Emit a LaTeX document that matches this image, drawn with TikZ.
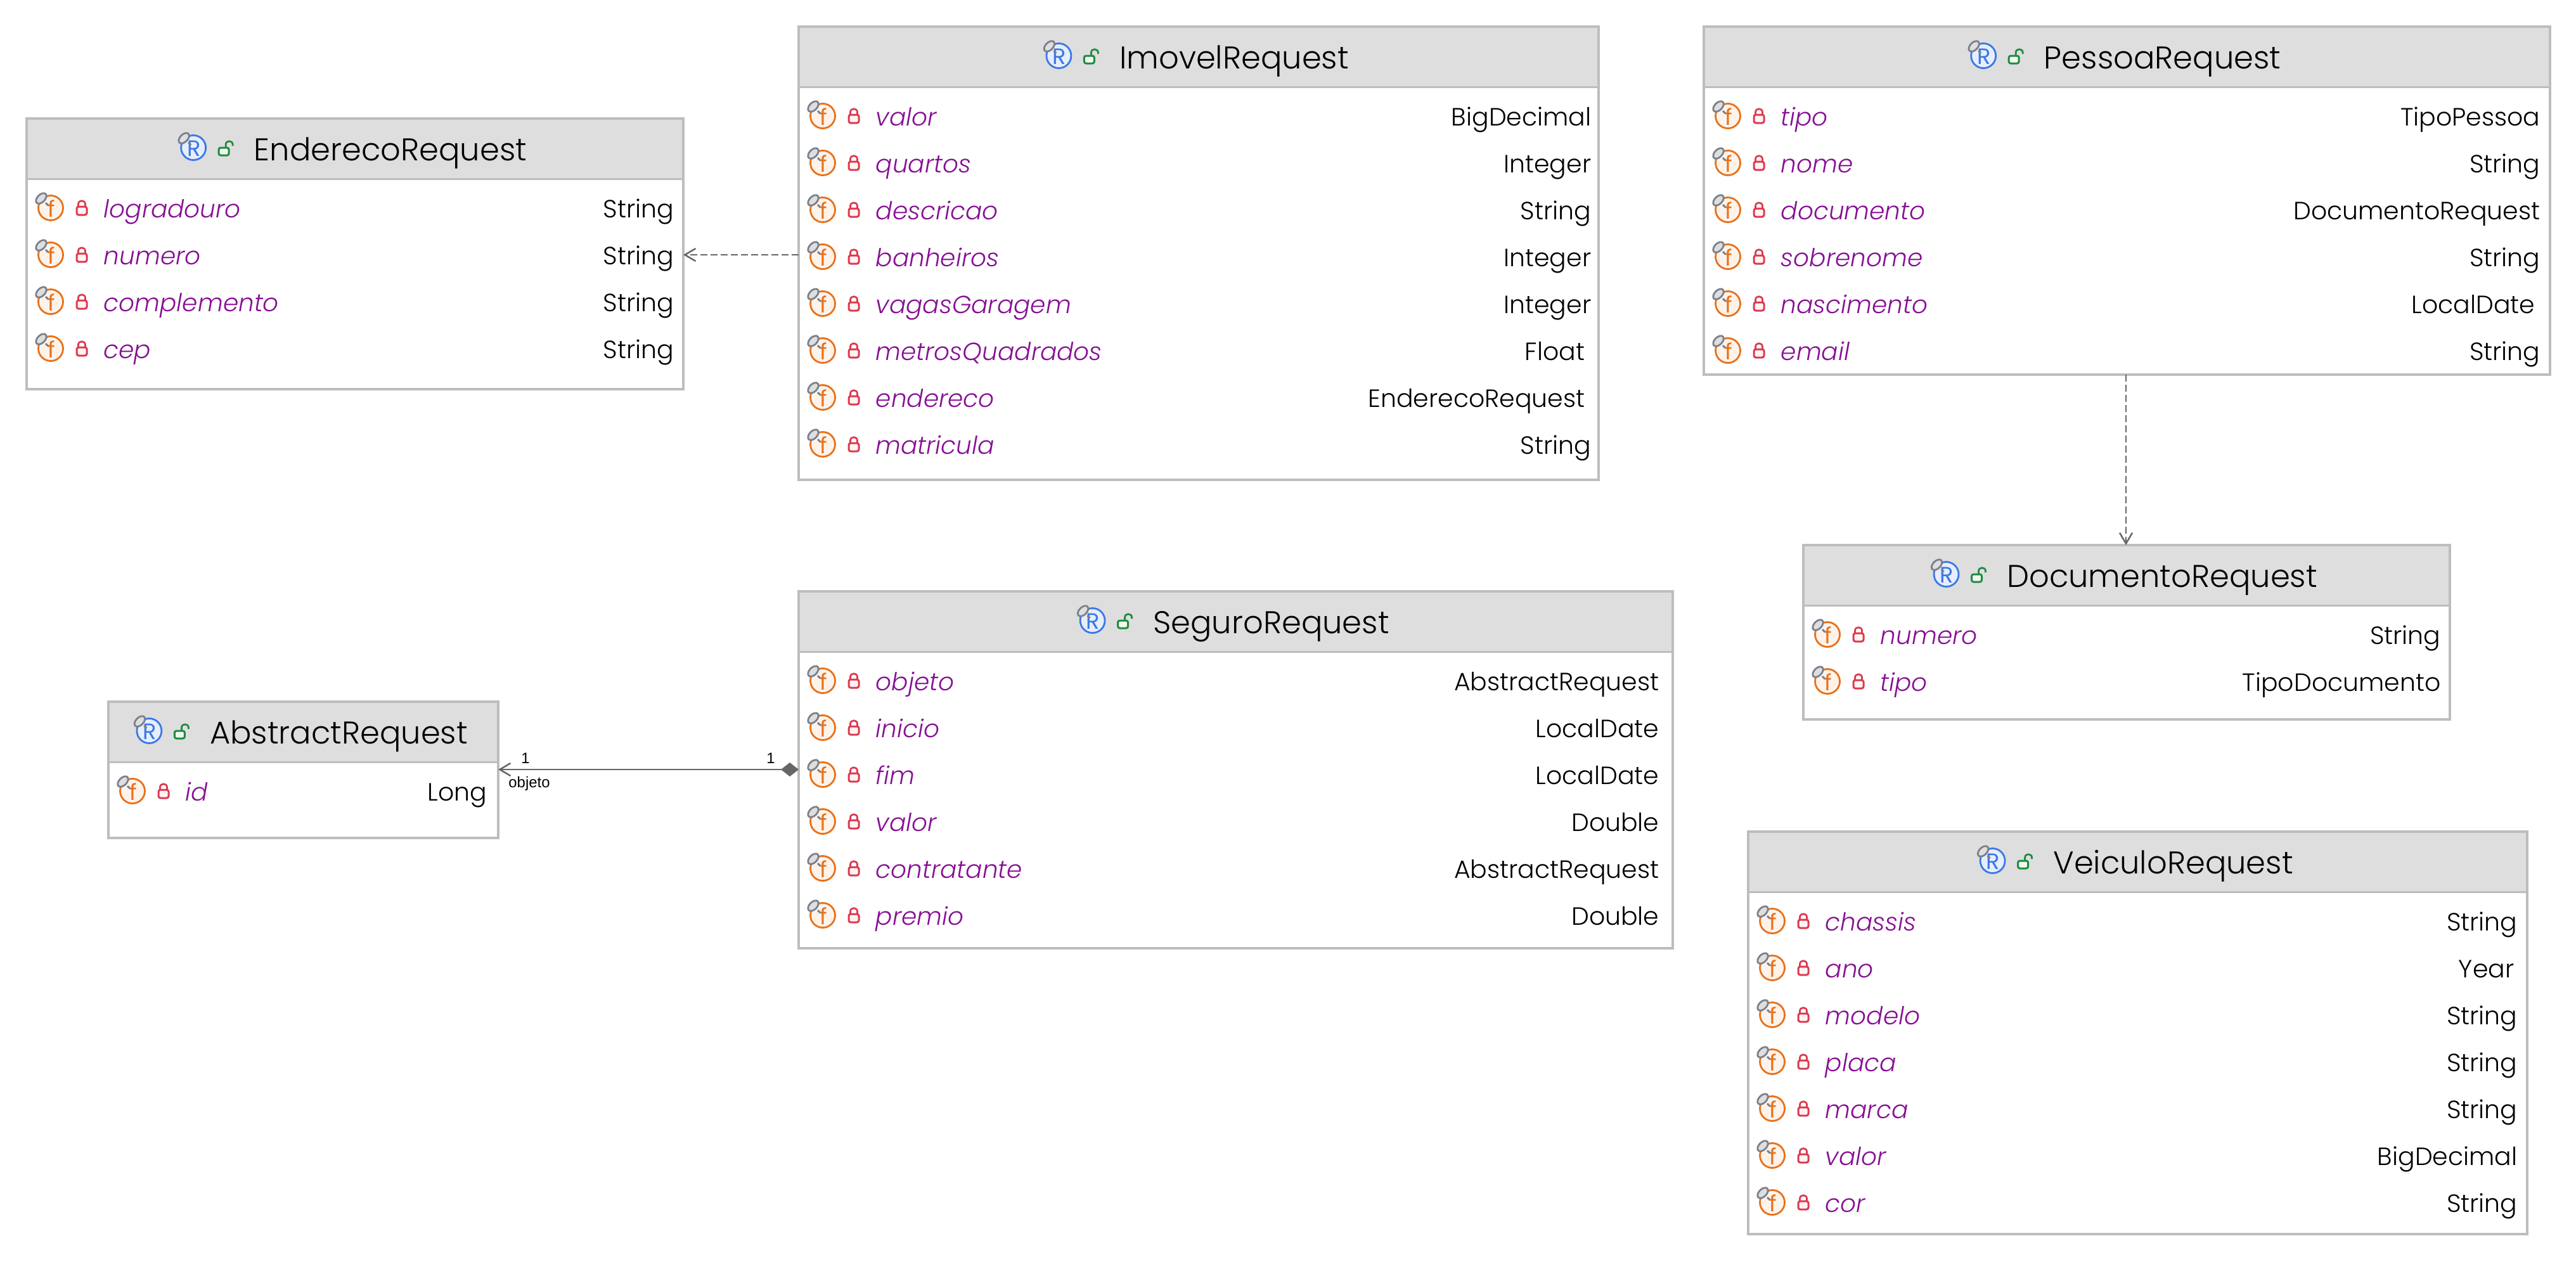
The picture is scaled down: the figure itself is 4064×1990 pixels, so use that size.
\documentclass[tikz,border=0pt]{standalone}
\usepackage{fontspec}
\setmainfont{Poppins}[UprightFont=* Light, ItalicFont=* Light Italic]
\newfontfamily\labelfont{Liberation Sans}
\newfontfamily\glyphfont{Poppins}
\usetikzlibrary{arrows.meta}

\definecolor{framegray}{HTML}{BDBDBD}
\definecolor{headgray}{HTML}{DEDEDE}
\definecolor{linegray}{HTML}{666666}
\definecolor{fieldorange}{HTML}{E8711A}
\definecolor{fieldpale}{HTML}{FEF3EB}
\definecolor{classblue}{HTML}{3B78E7}
\definecolor{classpale}{HTML}{E6EEFB}
\definecolor{lockred}{HTML}{DC3A50}
\definecolor{lockpale}{HTML}{FFF3F4}
\definecolor{lockgreen}{HTML}{1E8C3F}
\definecolor{greenpale}{HTML}{EFF8F0}
\definecolor{namepurple}{HTML}{871094}
\definecolor{pingray}{HTML}{7A808C}

\tikzset{
    titletext/.style={anchor=base, font=\fontsize{14.1}{14.1}\selectfont, inner sep=0pt},
    nametext/.style={anchor=base west, text=namepurple, font=\fontsize{11.1}{11.1}\selectfont\itshape, inner sep=0pt},
    typetext/.style={anchor=base east, font=\fontsize{11.2}{11.2}\selectfont, inner sep=0pt},
    umllabel/.style={font=\labelfont\fontsize{6.8}{6.8}\selectfont, inner sep=0pt},
    dependency/.style={draw=linegray, line width=0.025cm, dash pattern=on 0.11cm off 0.05cm,
        -{Straight Barb[length=0.17cm, width=0.2cm]}},
    association/.style={draw=linegray, line width=0.025cm,
        {Straight Barb[length=0.17cm, width=0.2cm]}-{Diamond[length=0.28cm, width=0.22cm]}},
    pics/badge/.style n args={3}{code={
        \draw[draw=#1, fill=#2, line width=0.028cm] (0,0) circle (19.5);
        \node[text=#1, inner sep=0pt, font=\glyphfont\fontsize{10}{10}\selectfont] (glyph) at (1,1) {#3};
        \draw[draw=pingray, fill=headgray, line width=0.028cm]
            (-15,-15) ellipse [x radius=10, y radius=6, rotate=45];
        \draw[draw=pingray, line width=0.03cm] (-8,-8) -- (-4,-4);
    }},
    pics/closedlock/.style={code={
        \draw[draw=lockred, line width=0.028cm] (-5.5,-3) -- (-5.5,-6) .. controls (-5.5,-13) and (5.5,-13) .. (5.5,-6) -- (5.5,-3);
        \draw[draw=lockred, fill=lockpale, line width=0.03cm, rounded corners=0.03cm] (-8,-2) rectangle (8,11);
    }},
    pics/openlock/.style={code={
        \draw[draw=lockgreen, line width=0.028cm] (3,-1) -- (3,-5) .. controls (3,-12) and (14,-12) .. (14,-5) -- (14,-3);
        \draw[draw=lockgreen, fill=greenpale, line width=0.03cm, rounded corners=0.03cm] (-8,0) rectangle (8,12);
    }},
}

% name, left, top, right, bottom, right edge of the types, title, rows
\newcommand{\classbox}[8]{
    \fill[headgray] (#2,#3) rectangle (#4,#3+95);
    \draw[draw=framegray, line width=0.03cm] (#2,#3+95) -- (#4,#3+95);
    \node[draw=framegray, line width=0.04cm, outer sep=0pt, inner sep=0pt, anchor=north west,
        minimum width={(#4-#2)*0.01cm}, minimum height={(#5-#3)*0.01cm}] (#1) at (#2,#3) {};
    \node[titletext] (#1-title) at ({(#2+#4)/2+56},#3+66) {#7};
    \path (#1-title.base west) ++(-95,-20) pic {badge={classblue}{classpale}{R}};
    \path (#1-title.base west) ++(-47,-20) pic {openlock};
    \foreach \fname/\ftype [count=\i] in {#8} {
        \pgfmathsetmacro\rowy{#3+141+74*(\i-1)}
        \coordinate (#1-\i) at (#2+38,\rowy);
        \path (#1-\i) pic {badge={fieldorange}{fieldpale}{f}};
        \path (#1-\i) ++(49,0) pic {closedlock};
        \node[nametext] (#1-\i-name) at (#2+121,\rowy+15) {\fname};
        \node[typetext] (#1-\i-type) at (#6,\rowy+15) {\ftype};
    }
}

\begin{document}
\begin{tikzpicture}[x=0.01cm, y=-0.01cm]
    \useasboundingbox (0,0) rectangle (4064,1990);

    \classbox{endereco}{42}{187}{1078}{614}{1064}{EnderecoRequest}
        {logradouro/String, numero/String, complemento/String, cep/String}
    \classbox{imovel}{1260}{42}{2522}{757}{2511}{ImovelRequest}
        {valor/BigDecimal, quartos/Integer, descricao/String, banheiros/Integer,
         vagasGaragem/Integer, metrosQuadrados/Float\kern0.1cm, endereco/EnderecoRequest\kern0.1cm, matricula/String}
    \classbox{pessoa}{2688}{42}{4023}{591}{4008}{PessoaRequest}
        {tipo/TipoPessoa, nome/String, documento/DocumentoRequest, sobrenome/String,
         nascimento/LocalDate\kern0.08cm, email/String}
    \classbox{documento}{2845}{860}{3865}{1135}{3851}{DocumentoRequest}
        {numero/String, tipo/TipoDocumento}
    \classbox{seguro}{1260}{933}{2639}{1496}{2618}{SeguroRequest}
        {objeto/AbstractRequest, inicio/LocalDate, fim/LocalDate, valor/Double,
         contratante/AbstractRequest, premio/Double}
    \classbox{abstract}{171}{1107}{786}{1322}{769}{AbstractRequest}
        {id/Long}
    \classbox{veiculo}{2758}{1312}{3987}{1947}{3972}{VeiculoRequest}
        {chassis/String, ano/Year\kern0.05cm, modelo/String, placa/String, marca/String,
         valor/BigDecimal, cor/String}

    \draw[dependency] (imovel.west |- endereco-2) -- (endereco.east |- endereco-2);

    \coordinate (docref) at (3354,700);
    \draw[dependency] (pessoa.south -| docref) -- (documento.north -| docref);

    \coordinate (objref) at (1000,1214);
    \draw[association] (abstract.east |- objref) -- (seguro.west |- objref);
    \node[umllabel] (objsource) at (829,1196) {1};
    \node[umllabel] (objtarget) at (1216,1196) {1};
    \node[umllabel] (objrole) at (835,1236) {objeto};
\end{tikzpicture}
\end{document}
